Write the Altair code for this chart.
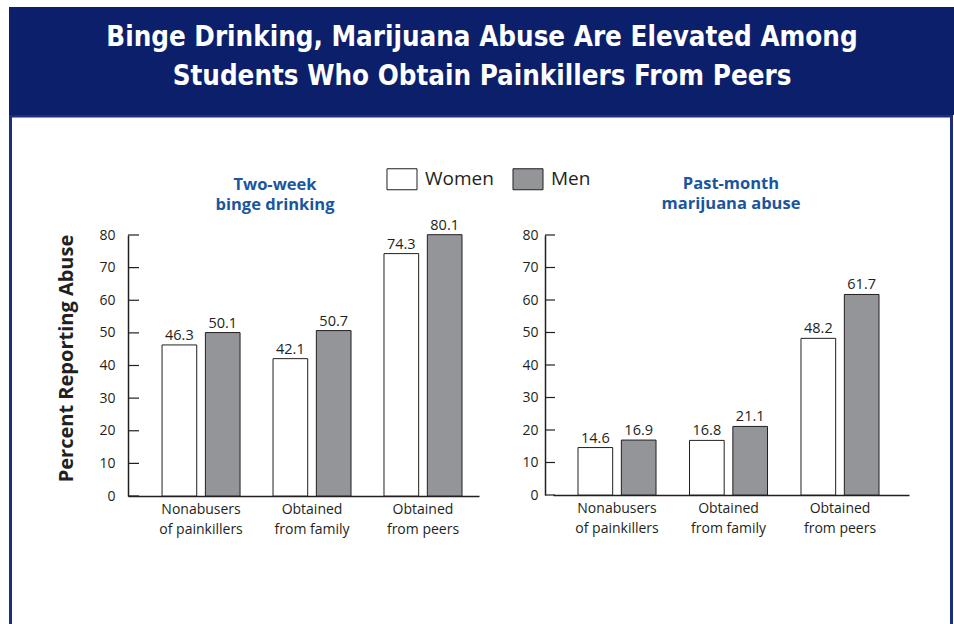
import altair as alt
import pandas as pd

# ---------------- data ----------------
categories = ["Nonabusers of painkillers", "Obtained from family", "Obtained from peers"]
groups = ["Women", "Men"]
binge_women = [46.3, 42.1, 74.3]
binge_men = [50.1, 50.7, 80.1]
marijuana_women = [14.6, 16.8, 48.2]
marijuana_men = [16.9, 21.1, 61.7]
y_ticks = [0, 10, 20, 30, 40, 50, 60, 70, 80]
title_lines = ["Binge Drinking, Marijuana Abuse Are Elevated Among",
               "Students Who Obtain Painkillers From Peers"]
subtitle_binge = ["Two-week", "binge drinking"]
subtitle_marijuana = ["Past-month", "marijuana abuse"]
y_title = "Percent Reporting Abuse"

# ---------------- style ----------------
INK = "#231f20"
NAVY = "#0c1f6b"
FRAME = "#1b2f7a"
BLUE = "#1a56a0"
GRAY = "#939598"
FONT = "Open Sans"
TITLE_FONT = "Liberation Sans Narrow, DejaVu Sans Condensed, Open Sans"


def long_df(women, men):
    rows = []
    for c, w, m in zip(categories, women, men):
        rows.append({"category": c, "group": "Women", "value": w})
        rows.append({"category": c, "group": "Men", "value": m})
    return pd.DataFrame(rows)


label_expr = ("[slice(datum.label, 0, indexof(datum.label, ' ')), "
              "slice(datum.label, indexof(datum.label, ' ') + 1)]")

legend = alt.Legend(
    title=None, orient="none", direction="horizontal",
    legendX=263, legendY=-67,
    symbolType="M-1.43,-1H1.43V1H-1.43Z", symbolSize=441,
    symbolStrokeColor=INK, symbolStrokeWidth=1,
    labelFont=FONT, labelFontSize=19, labelColor=INK, labelOffset=12,
    columnPadding=16, padding=0,
)


def panel(df, width, height, x_scale, y_axis, tick_x, subtitle, sub_x, sub_y, extra=()):
    x_enc = alt.X("category:N", sort=categories, scale=x_scale,
                  axis=alt.Axis(title=None, labelAngle=0, labelExpr=label_expr,
                                tickSize=0, domainColor=INK, domainWidth=1.5,
                                labelFont=FONT, labelFontSize=14, labelColor=INK,
                                labelPadding=6, labelLineHeight=20, labelBaseline="top"))
    xo_enc = alt.XOffset("group:N", sort=groups,
                         scale=alt.Scale(paddingInner=0.2, paddingOuter=0))
    y_scale = alt.Scale(domain=[0, 80], nice=False)
    y_enc = alt.Y("value:Q", scale=y_scale, axis=y_axis)

    bars = alt.Chart(df).mark_bar(stroke=INK, strokeWidth=1).encode(
        x=x_enc, xOffset=xo_enc, y=y_enc,
        fill=alt.Fill("group:N", scale=alt.Scale(domain=groups, range=["#ffffff", GRAY]),
                      legend=legend),
    )
    labels = alt.Chart(df).mark_text(font=FONT, fontSize=14.5, color=INK,
                                     baseline="alphabetic", dy=-5).encode(
        x=x_enc, xOffset=xo_enc, y=y_enc, text=alt.Text("value:Q", format=".1f"))
    ticks = alt.Chart(pd.DataFrame({"value": y_ticks})).mark_rule(
        color=INK, strokeWidth=1.2).encode(
        y=y_enc, x=alt.value(tick_x[0]), x2=alt.value(tick_x[1]))
    sub = alt.Chart(alt.Data(values=[{}])).mark_text(
        text=subtitle, font=FONT, fontSize=16.5, fontWeight="bold", color=BLUE,
        lineHeight=20, align="center", baseline="middle").encode(
        x=alt.value(sub_x), y=alt.value(sub_y))
    return alt.layer(*extra, bars, ticks, labels, sub).properties(width=width, height=height)


# decoration for the page frame and header (drawn in left panel's coordinates)
frame = alt.Chart(alt.Data(values=[{}])).mark_rect(
    filled=False, stroke=FRAME, strokeWidth=3).encode(
    x=alt.value(10.5 - 128), x2=alt.value(951.5 - 128),
    y=alt.value(116 - 235), y2=alt.value(700 - 235))
header = alt.Chart(alt.Data(values=[{}])).mark_rect(color=NAVY).encode(
    x=alt.value(9 - 128), x2=alt.value(960 - 128),
    y=alt.value(7 - 235), y2=alt.value(115 - 235))
title = alt.Chart(alt.Data(values=[{}])).mark_text(
    text=title_lines, font=TITLE_FONT, fontSize=27.5, fontWeight="bold", color="white",
    lineHeight=39, align="center", baseline="middle").encode(
    x=alt.value(482 - 128), y=alt.value(38 - 235))

left = panel(
    long_df(binge_women, binge_men), 351, 261,
    alt.Scale(paddingInner=0.297, paddingOuter=0.23, align=0.667),
    alt.Axis(values=y_ticks, tickSize=0, labelPadding=13, labelOverlap=False,
             domainColor=INK, domainWidth=1.5,
             grid=False, labelFont=FONT, labelFontSize=14, labelColor=INK,
             title=y_title, titleFont=FONT, titleFontSize=20, titleFontWeight="bold",
             titleColor=INK, titleAngle=-90, titleX=-62, titleY=123,
             titleAlign="center", titleBaseline="middle"),
    (0, 11), subtitle_binge, 275 - 128, 184.5 - 235,
    extra=(frame, header, title),
)
right = panel(
    long_df(marijuana_women, marijuana_men), 356, 260,
    alt.Scale(paddingInner=0.30, paddingOuter=0.2465, align=0.455),
    alt.Axis(values=y_ticks, tickSize=0, labelPadding=7, offset=8, labelOverlap=False,
             domainColor=INK,
             domainWidth=1.5, grid=False, labelFont=FONT, labelFontSize=14,
             labelColor=INK, title=None),
    (-8, 2), subtitle_marijuana, 731 - 553, 183.5 - 235,
)

chart = alt.hconcat(left, right, spacing=74, bounds="flush").properties(
    autosize=alt.AutoSizeParams(type="none"),
    padding={"left": 128, "top": 235, "right": 826, "bottom": 389},
).configure_view(stroke=None)

chart.save("out.html", embed_options={"renderer": "svg", "actions": False})
